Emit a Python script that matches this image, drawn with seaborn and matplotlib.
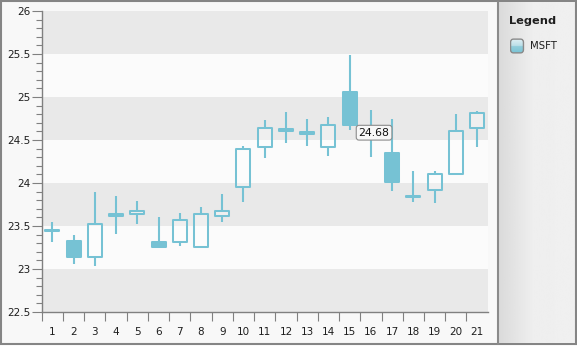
import numpy as np
import pandas as pd
import matplotlib
matplotlib.use("Agg")
import matplotlib.pyplot as plt
import seaborn as sns
from matplotlib.patches import Rectangle, FancyBboxPatch
from matplotlib.lines import Line2D
from matplotlib.ticker import MultipleLocator, FixedLocator, FuncFormatter
from matplotlib.colors import to_rgb

# Daily MSFT prices
days = [str(i) for i in range(1, 22)]
open_ = [23.44, 23.32, 23.14, 23.62, 23.64, 23.31, 23.31, 23.26, 23.62, 23.95, 24.42,
         24.61, 24.57, 24.42, 25.06, 24.57, 24.35, 23.84, 23.92, 24.11, 24.64]
close = [23.45, 23.14, 23.52, 23.64, 23.68, 23.26, 23.57, 23.64, 23.67, 24.40, 24.64,
         24.63, 24.59, 24.68, 24.68, 24.63, 24.01, 23.85, 24.10, 24.61, 24.81]
high = [23.55, 23.40, 23.90, 23.85, 23.79, 23.60, 23.65, 23.72, 23.87, 24.43, 24.73,
        24.82, 24.75, 24.77, 25.49, 24.85, 24.74, 24.14, 24.14, 24.80, 24.84]
low = [23.31, 23.06, 23.04, 23.41, 23.52, 23.24, 23.27, 23.26, 23.55, 23.78, 24.29,
       24.47, 24.43, 24.31, 24.62, 24.30, 23.91, 23.78, 23.77, 24.09, 24.42]
series_name = "MSFT"
tooltip_day = 15          # day whose close is shown in the tooltip

W, H = 577, 348
TEAL = "#76c2d4"
TEXT = "#1e1e1e"
AXIS = "#808080"

sns.set_theme(style="white")
plt.rcParams["font.family"] = ["DejaVu Sans"]


def fr(x0, y0, x1, y1):
    """Pixel box (top-left origin) to figure fraction rect."""
    return [x0 / W, 1 - y1 / H, (x1 - x0) / W, (y1 - y0) / H]


fig = plt.figure(figsize=(W / 100, H / 100), dpi=100)
fig.patch.set_facecolor("white")

# chart surface with grey frame (drawn beneath every axes)
fig.patches.append(Rectangle((1 / W, 1 - 344 / H), 575 / W, 343 / H,
                             transform=fig.transFigure, facecolor="#f8f8f8",
                             edgecolor="#858585", linewidth=1.5, zorder=-10))

# legend panel with horizontal gradient
pax = fig.add_axes(fr(498, 1.5, 575.5, 343.5))
g = np.linspace(0, 1, 200)
shade = np.where(g < 0.45, 0.855 + (0.935 - 0.855) * g / 0.45, 0.935 + 0.005 * (g - 0.45) / 0.55)
pax.imshow(np.tile(shade, (2, 1)), cmap="gray", vmin=0, vmax=1, aspect="auto",
           extent=[0, 1, 0, 1])
pax.set_xlim(0, 1)
pax.set_ylim(0, 1)
pax.axis("off")
fig.add_artist(Line2D([498 / W, 498 / W], [1 - 1.5 / H, 1 - 343.5 / H],
                      transform=fig.transFigure, color="#8a8a8a", lw=1.5, zorder=5))
fig.add_artist(Line2D([575.5 / W, 575.5 / W], [1 - 1 / H, 1 - 344 / H],
                      transform=fig.transFigure, color="#858585", lw=1.5, zorder=5))

fig.text(509.5 / W, 1 - 20.5 / H, "Legend", fontsize=8.2, fontweight="bold",
         color=TEXT, ha="left", va="center", zorder=6)
fig.text(530 / W, 1 - 46 / H, series_name, fontsize=7.3, color=TEXT,
         ha="left", va="center", zorder=6)

# legend swatch: glassy rounded square
sax = fig.add_axes(fr(509.5, 38, 524.5, 54))
sax.set_xlim(0, 1)
sax.set_ylim(0, 1)
sax.axis("off")
top_a, top_b = np.array(to_rgb("#e4f2f6")), np.array(to_rgb("#b9dee8"))
bot_a, bot_b = np.array(to_rgb("#93cedc")), np.array(to_rgb(TEAL))
t = np.linspace(0, 1, 60)[:, None]
grad = np.where(t < 0.5, top_a + (top_b - top_a) * (t / 0.5),
                bot_a + (bot_b - bot_a) * ((t - 0.5) / 0.5))
sw_box = FancyBboxPatch((0.07, 0.07), 0.86, 0.86, boxstyle="round,pad=0,rounding_size=0.2",
                        facecolor="none", edgecolor="#8a8a8a", linewidth=1.0,
                        transform=sax.transAxes, zorder=2)
sax.add_patch(sw_box)
img = sax.imshow(grad[:, None, :].repeat(2, axis=1), extent=[0, 1, 0, 1], aspect="auto",
                 origin="upper", zorder=0)
img.set_clip_path(sw_box)

# main plotting area
ax = fig.add_axes(fr(41.7, 11, 487.7, 312))
ax.set_facecolor("#fbfbfb")

df = pd.DataFrame({"day": days, "open": open_, "close": close, "high": high, "low": low})
df["body_lo"] = df[["open", "close"]].min(axis=1)
df["body_hi"] = df[["open", "close"]].max(axis=1)
df["body_h"] = (df["body_hi"] - df["body_lo"]).clip(lower=0.004)

# wicks above and below each body
xs = np.arange(len(df))
ax.vlines(xs, df["body_hi"], df["high"], color=TEAL, lw=1.5, zorder=3)
ax.vlines(xs, df["low"], df["body_lo"], color=TEAL, lw=1.5, zorder=3)

# candle bodies
sns.barplot(data=df, x="day", y="body_h", bottom=df["body_lo"].to_numpy(), errorbar=None,
            width=0.66, color=TEAL, ax=ax, zorder=4)
bars = ax.containers[-1]
for patch, o, c in zip(bars, df["open"], df["close"]):
    if c < o:
        patch.set_facecolor(TEAL)
    else:
        patch.set_facecolor((1, 1, 1, 0.3))
    patch.set_edgecolor(TEAL)
    patch.set_linewidth(1.45)
    patch.set_joinstyle("round")

# alternating horizontal bands
y0, y1 = 22.5, 26.0
for k, lo in enumerate(np.arange(y0, y1, 0.5)):
    ax.axhspan(lo, lo + 0.5, color="#e9e9e9" if k % 2 == 0 else "#fbfbfb", lw=0, zorder=0)

ax.set_xlim(-0.5, len(df) - 0.5)
ax.set_ylim(y0, y1)
ax.set_xlabel("")
ax.set_ylabel("")

for side in ("top", "right"):
    ax.spines[side].set_visible(False)
for side in ("left", "bottom"):
    ax.spines[side].set_color(AXIS)
    ax.spines[side].set_linewidth(1.0)

# y axis: labelled every 0.5, minor marks every 0.1
ax.yaxis.set_major_locator(MultipleLocator(0.5))
ax.yaxis.set_minor_locator(MultipleLocator(0.1))
ax.yaxis.set_major_formatter(FuncFormatter(lambda v, _: f"{v:g}"))
ax.tick_params(axis="y", which="major", length=7.5, width=0.8, color=AXIS, pad=0.8,
               labelsize=7.5, labelcolor=TEXT, left=True)
ax.tick_params(axis="y", which="minor", length=4.2, width=0.8, color=AXIS, left=True)

# x axis: tick marks at day boundaries, labels at day centres
ax.xaxis.set_major_locator(FixedLocator(np.arange(-0.5, len(df) - 1, 1.0)))
ax.xaxis.set_major_formatter(FuncFormatter(lambda v, _: ""))
ax.xaxis.set_minor_locator(FixedLocator(xs))
ax.xaxis.set_minor_formatter(FuncFormatter(lambda v, _: days[int(round(v))]))
ax.tick_params(axis="x", which="major", length=6.8, width=0.8, color=AXIS, bottom=True)
ax.tick_params(axis="x", which="minor", length=0, pad=10.5, labelsize=7.5,
               labelcolor=TEXT, bottom=True)

# value tooltip
ax.text(tooltip_day + 0.15, 24.585, f"{close[tooltip_day - 1]:.2f}", fontsize=7.8, color="#101010",
        ha="center", va="center", zorder=10,
        bbox=dict(boxstyle="round,pad=0.22,rounding_size=0.25", facecolor="#f7f7f7",
                  edgecolor="#8c8c8c", linewidth=0.8))

fig.savefig("out.png", dpi=100)
